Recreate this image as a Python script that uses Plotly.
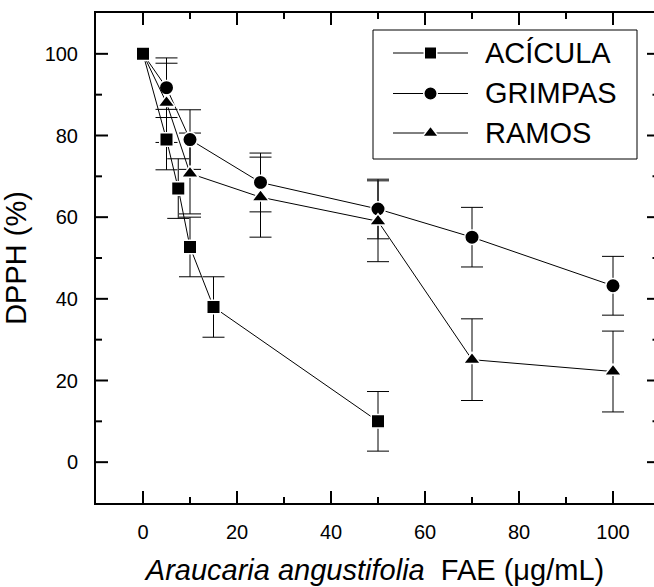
import plotly.graph_objects as go

# DPPH scavenging (%) versus extract concentration (ug/mL), mean and SD
dose_acicula = [0, 5, 7.5, 10, 15, 50]
dpph_acicula = [100, 79.0, 67.0, 52.7, 38.0, 10.0]
sd_acicula = [0, 7.4, 7.3, 7.3, 7.4, 7.3]

dose_grimpas = [0, 5, 10, 25, 50, 70, 100]
dpph_grimpas = [100, 91.7, 79.0, 68.5, 62.0, 55.1, 43.2]
sd_grimpas = [0, 7.3, 7.3, 7.2, 7.3, 7.3, 7.2]

dose_ramos = [0, 5, 10, 25, 50, 70, 100]
dpph_ramos = [100, 88.0, 70.7, 64.9, 59.0, 25.1, 22.2]
sd_ramos = [0, 9.7, 9.9, 9.8, 9.9, 10.0, 9.9]

series_names = ["ACÍCULA", "GRIMPAS", "RAMOS"]
series_symbols = ["square", "circle", "triangle-up"]
series_sizes = [13.5, 14.5, 15]

x_tick_values = [0, 20, 40, 60, 80, 100]
x_minor_values = [10, 30, 50, 70, 90]
y_tick_values = [0, 20, 40, 60, 80, 100]
y_minor_values = [10, 30, 50, 70, 90]

FONT = "Liberation Sans, Arial, sans-serif"
W, H = 654, 587
L, T, B = 96, 13, 84
plot_w = W - L
plot_h = H - T - B
x_lo, y_lo, y_hi = -10, -10, 110
px_per_unit_x = 4.7
x_hi = x_lo + plot_w / px_per_unit_x
px_per_unit_y = plot_h / (y_hi - y_lo)

series = [
    (dose_acicula, dpph_acicula, sd_acicula),
    (dose_grimpas, dpph_grimpas, sd_grimpas),
    (dose_ramos, dpph_ramos, sd_ramos),
]

fig = go.Figure()

# inward-pointing frame ticks, drawn as one polyline broken by gaps
# (the right frame sits just past the page edge, so only tick stubs show there)
tx, ty = [], []
for vals, n in [(x_tick_values, 12), (x_minor_values, 6)]:
    d = n / px_per_unit_y
    for v in vals:
        tx += [v, v, None, v, v, None]
        ty += [y_lo, y_lo + d, None, y_hi, y_hi - d, None]
for vals, n_left, n_right in [(y_tick_values, 12, 7), (y_minor_values, 6, 1.5)]:
    for v in vals:
        tx += [x_lo, x_lo + n_left / px_per_unit_x, None,
               x_hi, x_hi - n_right / px_per_unit_x, None]
        ty += [v, v, None, v, v, None]
fig.add_trace(go.Scatter(x=tx, y=ty, mode="lines", line=dict(color="black", width=2),
                         connectgaps=False, showlegend=False, hoverinfo="skip",
                         cliponaxis=False))

# error bars (the 100 % control point carries no deviation)
for (xs, ys, sds) in series:
    keep = [i for i, s in enumerate(sds) if s > 0]
    fig.add_trace(go.Scatter(
        x=[xs[i] for i in keep], y=[ys[i] for i in keep],
        mode="markers", marker=dict(size=1, opacity=0),
        error_y=dict(type="data", array=[sds[i] for i in keep], symmetric=True,
                     color="black", thickness=1, width=11),
        showlegend=False, hoverinfo="skip"))

# lines and markers; squares drawn last so they sit on top at the origin point
for k in [1, 2, 0]:
    xs, ys, _ = series[k]
    fig.add_trace(go.Scatter(
        x=xs, y=ys, name=series_names[k], mode="lines+markers",
        line=dict(color="black", width=1),
        marker=dict(symbol=series_symbols[k], size=series_sizes[k], color="black",
                    line=dict(color="white", width=1.5)),
        showlegend=False, cliponaxis=False))

# hand-drawn legend on its own hidden axes
box_l, box_t, box_w, box_h = 373, 30, 264, 129
dom_x = [(box_l - L) / plot_w, (box_l + box_w - L) / plot_w]
dom_y = [(T + plot_h - (box_t + box_h)) / plot_h, (T + plot_h - box_t) / plot_h]
rows = [23, 63.5, 103]
for k, row in enumerate(rows):
    fig.add_trace(go.Scatter(x=[20, 95], y=[row, row], mode="lines",
                             line=dict(color="black", width=1),
                             xaxis="x2", yaxis="y2", showlegend=False, hoverinfo="skip"))
    fig.add_trace(go.Scatter(x=[57.5], y=[row], mode="markers",
                             marker=dict(symbol=series_symbols[k], size=series_sizes[k] - 1,
                                         color="black", line=dict(color="white", width=1.5)),
                             xaxis="x2", yaxis="y2", showlegend=False, hoverinfo="skip",
                             cliponaxis=False))
    fig.add_annotation(x=110, y=row, xref="x2", yref="y2", text=series_names[k],
                       showarrow=False, xanchor="left", yanchor="middle",
                       font=dict(family=FONT, size=29, color="black"))
fig.add_shape(type="rect", xref="paper", yref="paper",
              x0=dom_x[0], x1=dom_x[1], y0=dom_y[0], y1=dom_y[1],
              line=dict(color="black", width=1), fillcolor="rgba(0,0,0,0)")

tick_font = dict(family=FONT, size=20, color="black")
title_font = dict(family=FONT, size=29, color="black")

fig.update_layout(
    width=W, height=H,
    margin=dict(l=L, r=0, t=T, b=B, pad=0),
    paper_bgcolor="white", plot_bgcolor="white",
    font=dict(family=FONT, color="black"),
    showlegend=False,
    xaxis=dict(
        range=[x_lo, x_hi], tickvals=x_tick_values, ticktext=[str(v) for v in x_tick_values],
        showgrid=False, zeroline=False, showline=True, linecolor="black", linewidth=2,
        mirror=True, ticks="", tickfont=tick_font, ticklabelstandoff=10,
        title=dict(text="<i>Araucaria angustifolia</i>\u00a0\u00a0FAE (\u03bcg/mL)",
                   font=title_font, standoff=18),
    ),
    yaxis=dict(
        range=[y_lo, y_hi], tickvals=y_tick_values, ticktext=[str(v) for v in y_tick_values],
        showgrid=False, zeroline=False, showline=True, linecolor="black", linewidth=2,
        ticks="", tickfont=tick_font, ticklabelstandoff=12,
        title=dict(text="DPPH (%)", font=title_font, standoff=10),
    ),
    xaxis2=dict(domain=dom_x, range=[0, box_w], visible=False, anchor="y2", fixedrange=True),
    yaxis2=dict(domain=dom_y, range=[box_h, 0], visible=False, anchor="x2", fixedrange=True),
)

fig.write_html("out.html")
